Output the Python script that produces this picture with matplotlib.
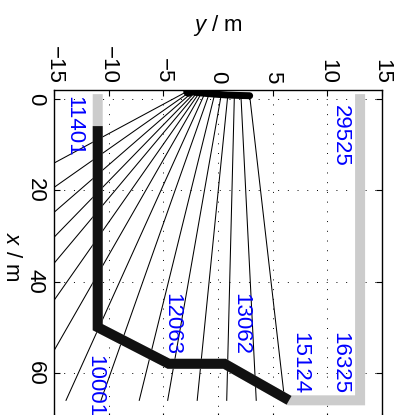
import matplotlib.pyplot as plt

plt.rcParams['font.family'] = 'Liberation Sans'
plt.rcParams['mathtext.fontset'] = 'custom'
plt.rcParams['mathtext.rm'] = 'Liberation Sans'
plt.rcParams['mathtext.it'] = 'Liberation Sans:italic'

# source arc, y and x in m (one point per ray)
arc_y = [-2.7, -2.5, -2.3, -2.1, -1.9, -1.7, -1.5, -1.2, -0.8, -0.3, 0.3, 0.9, 1.5, 2.1, 2.9]
arc_x = [-1.75, -1.6, -1.5, -1.4, -1.35, -1.3, -1.25, -1.18, -1.1, -1.0, -0.9, -0.8, -0.75, -0.7, -0.65]

# where every ray arrives at the far x
ray_end_x = 66
ray_end_y = [-55.3, -42.7, -34.8, -29.5, -25.5, -21.4, -17.6, -13.9,
             -10.7, -7.2, -4.6, -1.9, 0.8, 3.5, 6.1]

# channel wall (grey) and detected wall (black)
wall_x = [-1, 50, 58, 58, 66, 66, -1]
wall_y = [-11, -11, -4.5, 0.6, 6.5, 13, 13]
found_x = [6, 50, 58, 58, 66]
found_y = [-11, -11, -4.5, 0.6, 6.5]

# blue numbers
labels = ['11401', '29525', '12063', '13062', '15124', '16325', '10001']
label_y = [-13.2, 11.2, -4.25, 2.1, 7.5, 11.15, -11.3]
label_x = [-0.5, 1.4, 42.6, 42.6, 51.0, 51.0, 56.1]

fig = plt.figure(figsize=(3.99, 4.15), dpi=100)
ax = fig.add_axes([0.1353, -0.0087, 0.822, 0.7918])

# rays
for ys, xs, ye in zip(arc_y, arc_x, ray_end_y):
    ax.plot([ys, ye], [xs, ray_end_x], color='k', lw=0.75, zorder=2)

ax.plot(wall_y, wall_x, color='#cccccc', lw=7.2, solid_joinstyle='miter',
        solid_capstyle='butt', zorder=3)
ax.plot(found_y, found_x, color='#111111', lw=7.2, solid_joinstyle='miter',
        solid_capstyle='butt', zorder=4)
ax.plot(arc_y, arc_x, color='k', lw=5, solid_capstyle='round', zorder=5)
ax.plot(arc_y[0], arc_x[0], 'o', color='k', ms=6.5, zorder=5)

for txt, yy, xx in zip(labels, label_y, label_x):
    ax.text(yy, xx, txt, color='blue', fontsize=16, rotation=-90,
            ha='center', va='top', zorder=6)

ax.set_xlim(-15, 15)
ax.set_ylim(70, -1.9)
ax.set_xticks(range(-15, 16, 5))
ax.set_yticks([0, 20, 40, 60])
ax.xaxis.tick_top()
ax.tick_params(which='both', direction='in', length=4, width=0.8,
               top=True, bottom=True, left=True, right=True,
               labeltop=True, labelbottom=False, labelsize=16)
ax.tick_params(axis='x', labelrotation=-90, pad=4.5)
ax.tick_params(axis='y', labelrotation=-90, pad=6)
for t in ax.get_yticklabels():
    t.set_va('center')
ax.grid(True, linestyle=(0, (1, 9)), color='k', linewidth=0.7)
ax.set_axisbelow(True)
for s in ax.spines.values():
    s.set_linewidth(1.0)

fig.text(217.5 / 399, 1 - 31.5 / 415, r'$y$ / m', fontsize=16,
         ha='center', va='baseline')
fig.text(11.5 / 399, 1 - 257 / 415, r'$x$ / m', fontsize=16,
         ha='center', va='center', rotation=-90)

fig.savefig('out.png', dpi=100)
